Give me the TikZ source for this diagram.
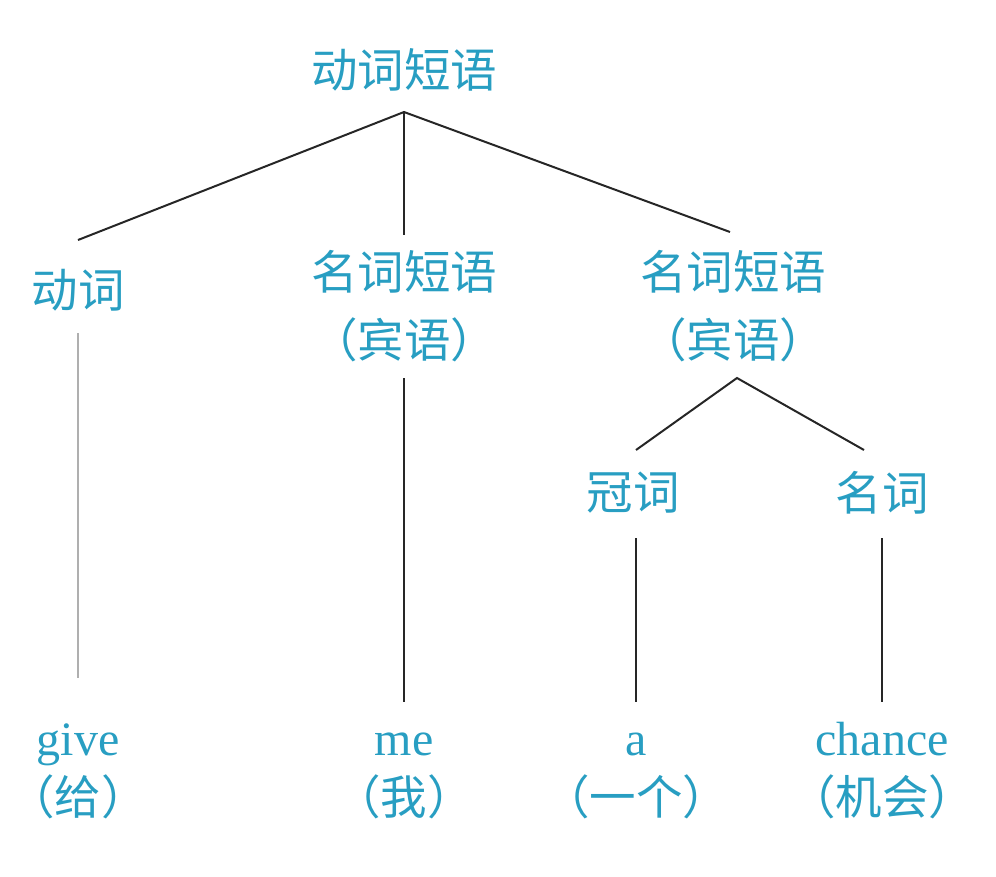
\documentclass[tikz,border=0pt]{standalone}
\usepackage{fontspec}
\setmainfont{Liberation Serif}
\newfontfamily\cjk{Noto Sans CJK SC}
\definecolor{tcyan}{RGB}{40,158,194}
\definecolor{lgray}{RGB}{175,175,175}
\begin{document}
\begin{tikzpicture}[x=1pt,y=-1pt,
  cn/.style={text=tcyan,font=\cjk\fontsize{46.5}{46.5}\selectfont,inner sep=0pt},
  en/.style={text=tcyan,font=\fontsize{48}{48}\selectfont,inner sep=0pt,anchor=base},
  edge/.style={draw=black!85,line width=2pt},
  gedge/.style={draw=lgray,line width=2pt}]
\useasboundingbox (0,0) rectangle (996,876);
% nodes
\node[cn] (vp) at (404,70) {动词短语};
\node[cn] (v) at (78,290) {动词};
\node[cn] (np1) at (404,272) {名词短语};
\node[cn] (np1b) at (404,340) {（宾语）};
\node[cn] (np2) at (733,272) {名词短语};
\node[cn] (np2b) at (733,340) {（宾语）};
\node[cn] (det) at (633,493) {冠词};
\node[cn] (n) at (882,493) {名词};
\node[en] (give) at (78,755) {give};
\node[cn] (giveb) at (78,797) {（给）};
\node[en] (me) at (404,755) {me};
\node[cn] (meb) at (404,797) {（我）};
\node[en] (a) at (636,755) {a};
\node[cn] (ab) at (636,797) {（一个）};
\node[en] (ch) at (882,755) {chance};
\node[cn] (chb) at (882,797) {（机会）};
% connector end points
\coordinate (vp-b) at (404,112);
\coordinate (v-t) at (78,240);
\coordinate (np1-t) at (404,235);
\coordinate (np2-t) at (730,232);
\coordinate (v-b) at (78,333);
\coordinate (give-t) at (78,678);
\coordinate (np1-b) at (404,378);
\coordinate (me-t) at (404,702);
\coordinate (np2-b) at (737,378);
\coordinate (det-t) at (636,450);
\coordinate (n-t) at (864,450);
\coordinate (det-b) at (636,538);
\coordinate (a-t) at (636,702);
\coordinate (n-b) at (882,538);
\coordinate (ch-t) at (882,702);
% connectors
\draw[edge] (v-t) -- (vp-b) -- (np2-t);
\draw[edge] (vp-b) -- (np1-t);
\draw[gedge] (v-b) -- (give-t);
\draw[edge] (np1-b) -- (me-t);
\draw[edge] (det-t) -- (np2-b) -- (n-t);
\draw[edge] (det-b) -- (a-t);
\draw[edge] (n-b) -- (ch-t);
\end{tikzpicture}
\end{document}
